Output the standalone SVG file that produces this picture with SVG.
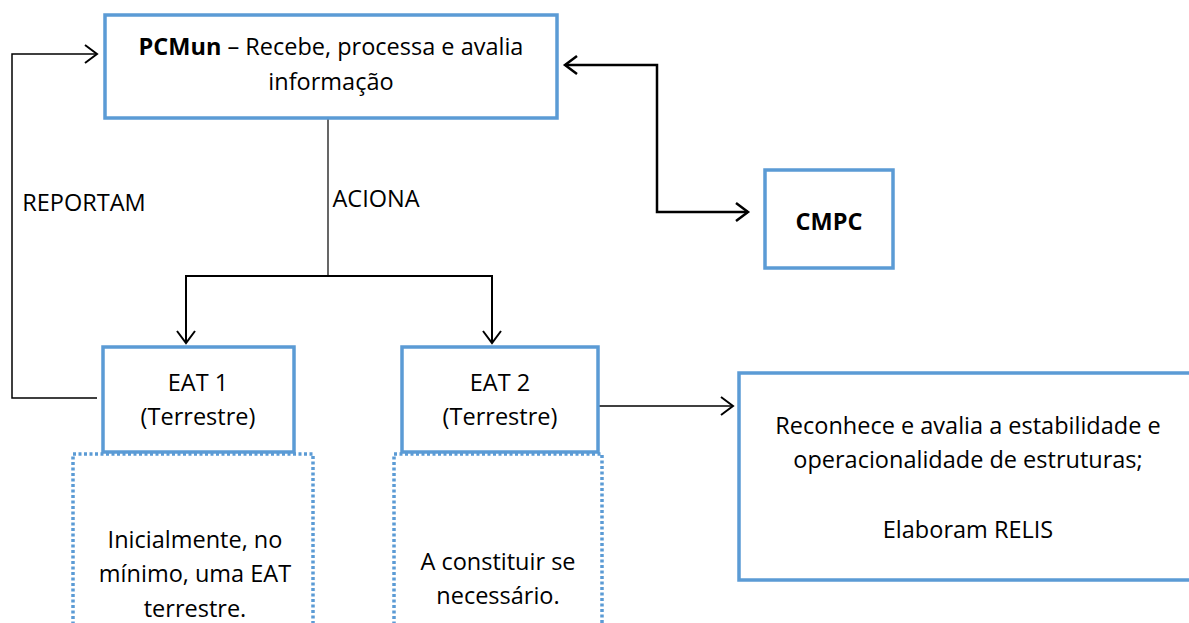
<svg xmlns="http://www.w3.org/2000/svg" width="1189" height="623" viewBox="0 0 1189 623">
<style>
.box{fill:#fff;stroke:#5b9bd5;stroke-width:3.5}
.dot{fill:none;stroke:#5b9bd5;stroke-width:3.5;stroke-dasharray:3 2.5}
.t{font-family:"Open Sans",Lato,sans-serif;font-size:23.5px;fill:#000;text-anchor:middle}
.b{font-weight:bold}
.c{fill:none;stroke:#000}
</style>
<defs>
<marker id="ah" markerUnits="userSpaceOnUse" markerWidth="20" markerHeight="24" refX="15" refY="12" orient="auto">
<path d="M3,3 L15,12 L3,21" fill="none" stroke="#000" stroke-width="2"/>
</marker>
<marker id="ahs" markerUnits="userSpaceOnUse" markerWidth="20" markerHeight="24" refX="15" refY="12" orient="auto-start-reverse">
<path d="M3,3 L15,12 L3,21" fill="none" stroke="#000" stroke-width="2.5"/>
</marker>
</defs>
<g id="connectors">
<path class="c" d="M97,398 H12 V54 H97" stroke-width="1.5" stroke="#222" marker-end="url(#ah)"/>
<path class="c" d="M328,119 V276" stroke-width="1.2" stroke="#333"/>
<path class="c" d="M186,343 V276 H492 V343" stroke-width="2" marker-end="url(#ah)"/>
<path class="c" d="M186,276 V343" stroke-width="2" marker-end="url(#ah)"/>
<path class="c" d="M565,65 H657 V212 H748" stroke-width="2.5" marker-start="url(#ahs)" marker-end="url(#ahs)"/>
<path class="c" d="M599,406 H733" stroke-width="1.5" marker-end="url(#ah)"/>
<text class="t" x="84" y="211">REPORTAM</text>
<text class="t" x="376" y="207">ACIONA</text>
</g>
<g id="pcmun">
<rect class="box" x="105" y="15" width="452" height="103"/>
<text class="t" x="331" y="55"><tspan class="b">PCMun</tspan> – Recebe, processa e avalia</text>
<text class="t" x="331" y="90">informação</text>
</g>
<g id="cmpc">
<rect class="box" x="765" y="170" width="128" height="98"/>
<text class="t b" x="829" y="230">CMPC</text>
</g>
<g id="eat1">
<rect class="box" x="103" y="347" width="191" height="105"/>
<text class="t" x="198" y="391">EAT 1</text>
<text class="t" x="198" y="425">(Terrestre)</text>
</g>
<g id="eat2">
<rect class="box" x="402" y="347" width="196" height="105"/>
<text class="t" x="500" y="391">EAT 2</text>
<text class="t" x="500" y="425">(Terrestre)</text>
</g>
<g id="note1">
<path class="dot" d="M73,630 V454 H313 V630"/>
<text class="t" x="195" y="548">Inicialmente, no</text>
<text class="t" x="195" y="582">mínimo, uma EAT</text>
<text class="t" x="195" y="617">terrestre.</text>
</g>
<g id="note2">
<path class="dot" d="M394,630 V454 H602 V630"/>
<text class="t" x="498" y="570">A constituir se</text>
<text class="t" x="498" y="604">necessário.</text>
</g>
<g id="relis">
<rect class="box" x="739" y="373" width="470" height="207"/>
<text class="t" x="968" y="434">Reconhece e avalia a estabilidade e</text>
<text class="t" x="968" y="468">operacionalidade de estruturas;</text>
<text class="t" x="968" y="538">Elaboram RELIS</text>
</g>
</svg>
